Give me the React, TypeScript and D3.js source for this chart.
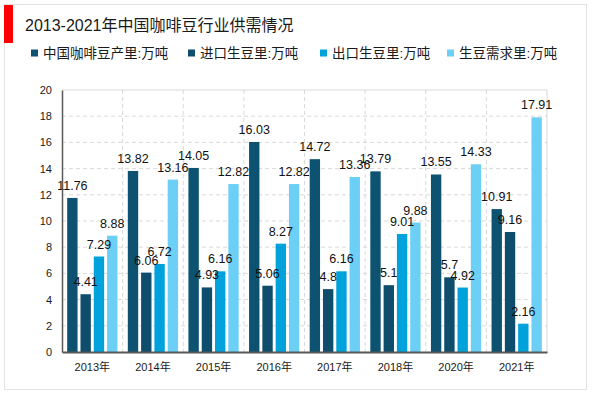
import { useEffect, useRef } from "react";
import * as d3 from "d3";

const years = ["2013年", "2014年", "2015年", "2016年", "2017年", "2018年", "2020年", "2021年"];
const seriesNames = ["中国咖啡豆产里:万吨", "进口生豆里:万吨", "出口生豆里:万吨", "生豆需求里:万吨"];
const production = [11.76, 13.82, 14.05, 16.03, 14.72, 13.79, 13.55, 10.91];
const imports = [4.41, 6.06, 4.93, 5.06, 4.8, 5.1, 5.7, 9.16];
const exports = [7.29, 6.72, 6.16, 8.27, 6.16, 9.01, 4.92, 2.16];
const demand = [8.88, 13.16, 12.82, 12.82, 13.36, 9.88, 14.33, 17.91];
const yTicks = [0, 2, 4, 6, 8, 10, 12, 14, 16, 18, 20];
const colors = ["#0d5270", "#0e4d6b", "#00a2dc", "#6ccff5"];

const FONT = "'Liberation Sans', Arial, 'Noto Sans CJK SC', sans-serif";

export default function App() {
  const ref = useRef<SVGSVGElement>(null);

  useEffect(() => {
    if (!ref.current) return;
    const svg = d3.select(ref.current);
    svg.selectAll("*").remove();

    const values = [production, imports, exports, demand];
    const margin = { top: 90, right: 53, bottom: 41, left: 62 };
    const width = 600;
    const height = 393;

    // frame + red marker
    svg.append("rect").attr("x", 4.5).attr("y", 4.5).attr("width", 582).attr("height", 385)
      .attr("fill", "#fff").attr("stroke", "#e3e3e3");
    svg.append("rect").attr("x", 4).attr("y", 5).attr("width", 9).attr("height", 38).attr("fill", "#ff0000");

    svg.append("text").attr("x", 25).attr("y", 31).attr("font-size", 16).attr("fill", "#1a1a1a")
      .attr("font-family", FONT).text("2013-2021年中国咖啡豆行业供需情况");

    // legend
    const legendX = [31, 188, 320, 447];
    seriesNames.forEach((name, i) => {
      const g = svg.append("g").attr("transform", `translate(${legendX[i]},53)`);
      g.append("rect").attr("x", 0).attr("y", -3.5).attr("width", 7).attr("height", 7).attr("fill", colors[i]);
      g.append("text").attr("x", 12).attr("y", 5).attr("font-size", 13.5).attr("fill", "#1a1a1a")
        .attr("font-family", FONT).text(name);
    });

    const x = d3.scaleBand().domain(years).range([margin.left, width - margin.right]);
    const x1 = d3.scaleBand<number>().domain([0, 1, 2, 3]).range([0, x.bandwidth()])
      .paddingInner(0.22).paddingOuter(0.39);
    const y = d3.scaleLinear().domain([0, 20]).range([height - margin.bottom, margin.top]);

    // grid
    const grid = svg.append("g");
    yTicks.filter((t) => t > 0 && t < 20).forEach((t) => {
      grid.append("line").attr("x1", margin.left).attr("x2", width - margin.right)
        .attr("y1", y(t)).attr("y2", y(t)).attr("stroke", "#d9d9d9").attr("stroke-dasharray", "4,3");
    });
    years.slice(1).forEach((yr) => {
      const xv = x(yr)!;
      grid.append("line").attr("x1", xv).attr("x2", xv).attr("y1", margin.top).attr("y2", y(0))
        .attr("stroke", "#d9d9d9").attr("stroke-dasharray", "4,3");
    });
    grid.append("line").attr("x1", margin.left).attr("x2", width - margin.right)
      .attr("y1", margin.top).attr("y2", margin.top).attr("stroke", "#d9d9d9");
    grid.append("line").attr("x1", width - margin.right).attr("x2", width - margin.right)
      .attr("y1", margin.top).attr("y2", y(0)).attr("stroke", "#d9d9d9");

    // bars + labels
    values.forEach((vals, si) => {
      svg.append("g").selectAll("rect").data(vals).enter().append("rect")
        .attr("x", (_, i) => x(years[i])! + x1(si)!)
        .attr("y", (d) => y(d))
        .attr("width", x1.bandwidth())
        .attr("height", (d) => y(0) - y(d))
        .attr("fill", colors[si]);
    });
    values.forEach((vals, si) => {
      svg.append("g").selectAll("text").data(vals).enter().append("text")
        .attr("x", (_, i) => x(years[i])! + x1(si)! + x1.bandwidth() / 2)
        .attr("y", (d) => y(d) - 8)
        .attr("text-anchor", "middle")
        .attr("font-size", 12.5)
        .attr("font-family", FONT)
        .attr("fill", "#111")
        .text((d) => String(d));
    });

    // axes
    const yAxis = svg.append("g").attr("transform", `translate(${margin.left},0)`)
      .call(d3.axisLeft(y).tickValues(yTicks).tickSize(0).tickPadding(10));
    yAxis.select(".domain").attr("stroke", "#595959").attr("stroke-width", 1.5);
    yAxis.selectAll("text").attr("font-size", 11).attr("font-family", FONT).attr("fill", "#1a1a1a");

    const xAxis = svg.append("g").attr("transform", `translate(0,${y(0)})`)
      .call(d3.axisBottom(x).tickSize(0).tickPadding(11));
    xAxis.select(".domain").attr("stroke", "#595959").attr("stroke-width", 2);
    xAxis.selectAll("text").attr("font-size", 11).attr("font-family", FONT).attr("fill", "#1a1a1a");
  }, []);

  return (
    <svg ref={ref} width={600} height={393} style={{ position: "absolute", left: 0, top: 0 }} />
  );
}
